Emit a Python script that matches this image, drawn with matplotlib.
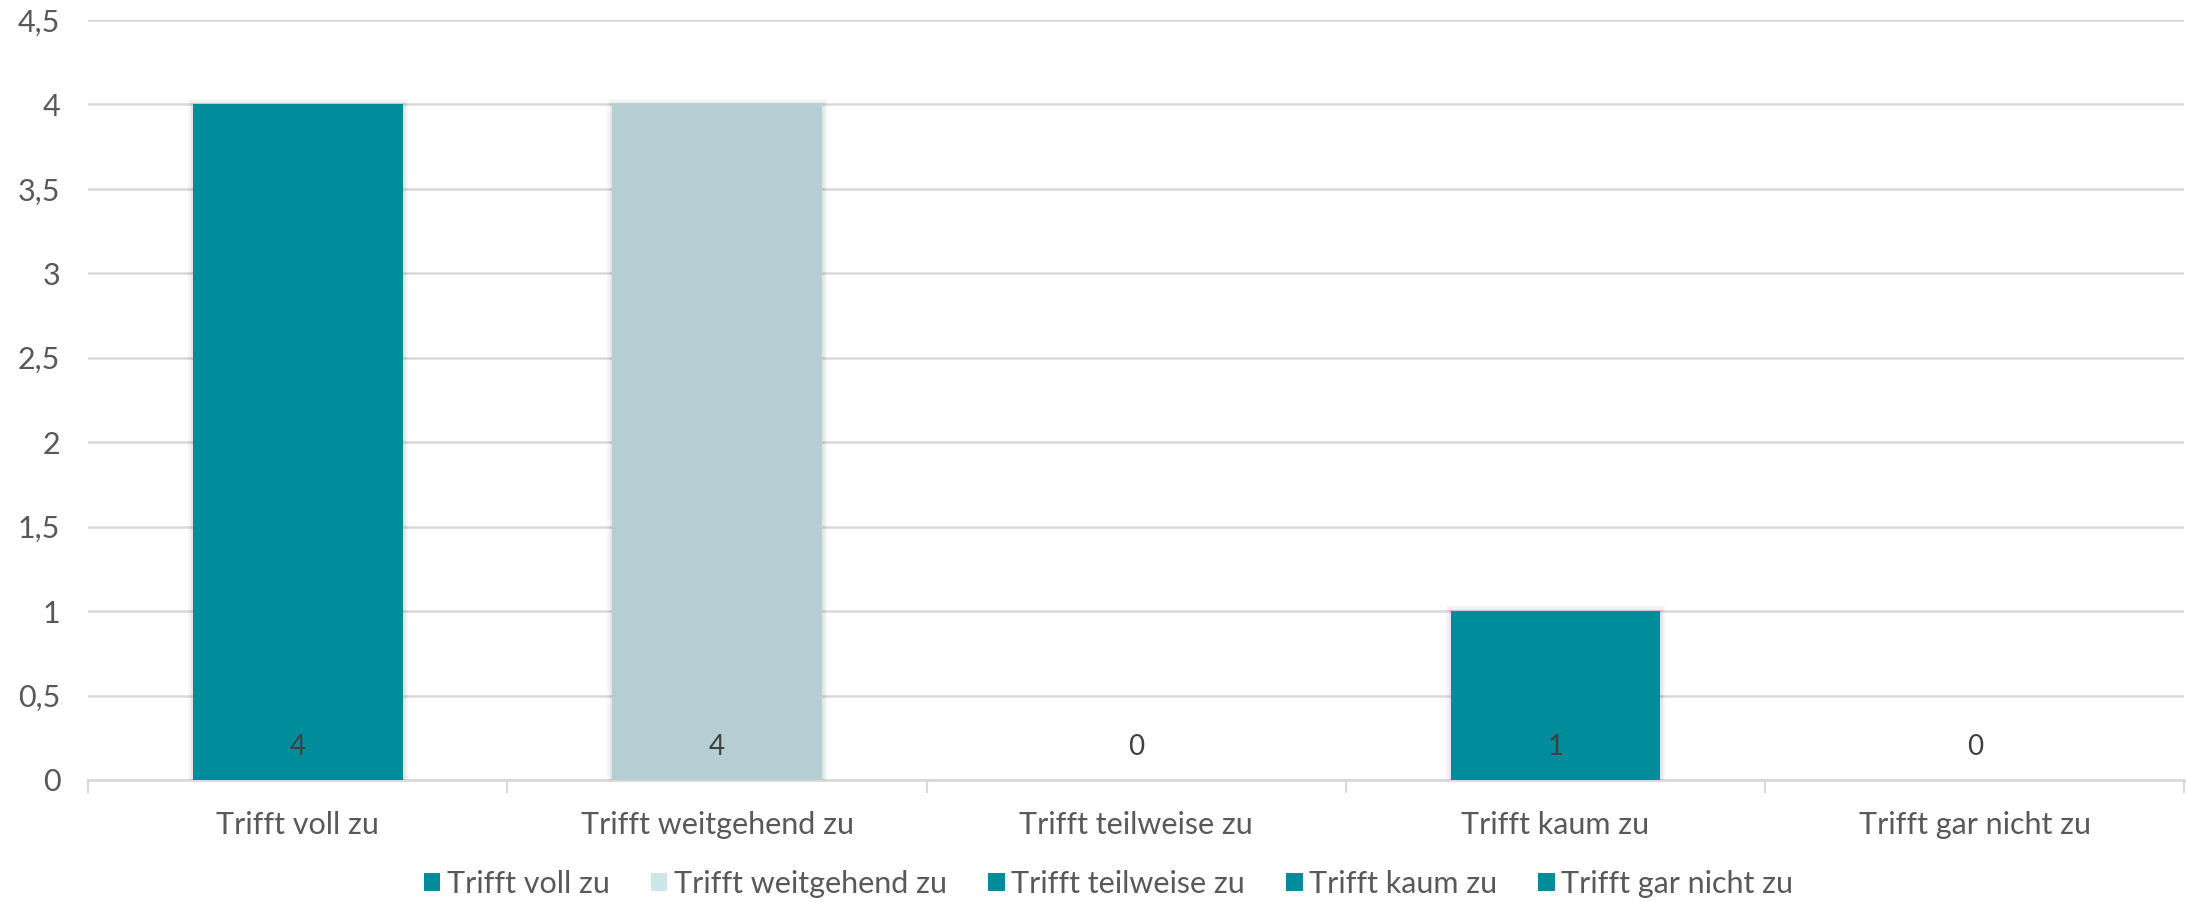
import matplotlib
matplotlib.use('Agg')
import matplotlib.pyplot as plt
from matplotlib.patches import Patch
import matplotlib.patheffects as pe

plt.rcParams['font.family'] = ['Lato', 'DejaVu Sans']

# Daten
kategorien = ['Trifft voll zu', 'Trifft weitgehend zu', 'Trifft teilweise zu',
              'Trifft kaum zu', 'Trifft gar nicht zu']
werte = [4, 4, 0, 1, 0]
balken_farben = ['#008C9B', '#B4CED3', '#008C9B', '#008C9B', '#008C9B']
legende_farben = ['#008C9B', '#CCE6EA', '#008C9B', '#008C9B', '#008C9B']
y_ticks = [0, 0.5, 1, 1.5, 2, 2.5, 3, 3.5, 4, 4.5]
y_labels = ['0', '0,5', '1', '1,5', '2', '2,5', '3', '3,5', '4', '4,5']

text_farbe = '#595959'
grid_farbe = '#D9D9D9'

fig = plt.figure(figsize=(21.86, 9.02), dpi=100)
ax = fig.add_axes([0.0403, 0.1353, 0.9590, 0.8425])

x = list(range(len(kategorien)))
schatten = [pe.Stroke(linewidth=7, foreground='black', alpha=0.04),
            pe.Stroke(linewidth=3.5, foreground='black', alpha=0.06),
            pe.Normal()]
bars = ax.bar(x, werte, width=0.5, color=balken_farben, zorder=3)
for b, v in zip(bars, werte):
    if v > 0:
        b.set_path_effects(schatten)

# Datenbeschriftungen
for i, v in enumerate(werte):
    ax.annotate(str(v), xy=(i, 0), xytext=(0, 20), textcoords='offset pixels',
                ha='center', va='bottom', fontsize=20, color='#404040', zorder=4)

ax.set_xlim(-0.5, len(kategorien) - 0.5)
ax.set_ylim(0, 4.5)
ax.set_yticks(y_ticks)
ax.set_yticklabels(y_labels)
ax.yaxis.grid(True, color=grid_farbe, linewidth=1.8, zorder=0)
ax.set_axisbelow(True)

ax.set_xticks(x)
ax.set_xticklabels(kategorien)
ax.set_xticks([i - 0.5 for i in range(len(kategorien) + 1)], minor=True)
ax.tick_params(axis='x', which='major', length=0, pad=22, labelsize=22, labelcolor=text_farbe)
ax.tick_params(axis='x', which='minor', length=9, width=1.5, color=grid_farbe)
ax.tick_params(axis='y', length=0, pad=20, labelsize=22, labelcolor=text_farbe)

for s in ['top', 'right', 'left']:
    ax.spines[s].set_visible(False)
ax.spines['bottom'].set_color(grid_farbe)
ax.spines['bottom'].set_linewidth(2)

handles = [Patch(facecolor=c, label=k) for c, k in zip(legende_farben, kategorien)]
fig.legend(handles=handles, loc='center', bbox_to_anchor=(0.507, 0.020), ncol=5,
           frameon=False, fontsize=22, labelcolor=text_farbe, handlelength=0.55,
           handleheight=0.55, handletextpad=0.2, columnspacing=1.35,
           borderpad=0.1)

fig.savefig('out.png', dpi=100)
